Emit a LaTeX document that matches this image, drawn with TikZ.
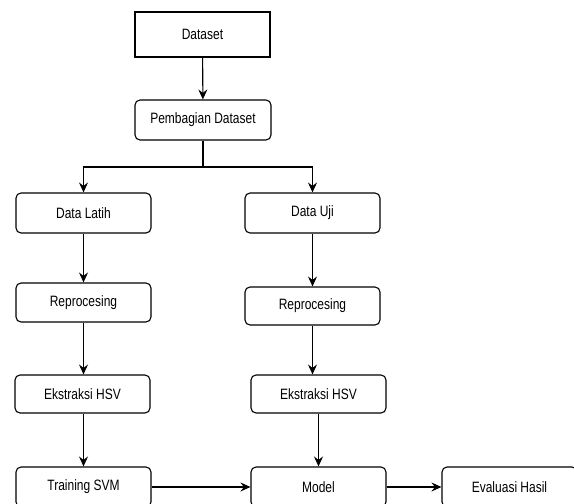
\documentclass[tikz,border=0pt]{standalone}
\usepackage{fontspec}
\setmainfont{Liberation Sans}[FakeStretch=0.8]
\usetikzlibrary{arrows.meta}
\begin{document}
\begin{tikzpicture}[x=1pt,y=-1pt,
  box/.style={draw=black, line width=1.1pt, rounded corners=5pt, minimum width=135pt, minimum height=40pt, inner sep=0pt, font=\fontsize{15}{17}\selectfont, fill=white},
  sqbox/.style={box, rounded corners=0pt, minimum height=45pt},
  arr/.style={line width=1.1pt, -{Stealth[length=10pt,width=9pt,inset=3.5pt]}},
  ln/.style={line width=1.1pt}]
\useasboundingbox (0,0) rectangle (574,504);
\clip (0,0) rectangle (574,504);
\node[sqbox] (ds) at (202.5,34.5) {Dataset};
\node[box, minimum width=136pt] (pb) at (203,120) {Pembagian Dataset};
\node[box] (dl) at (83.5,213) {Data Latih};
\node[box] (du) at (312.5,213) {Data Uji};
\node[box, minimum height=39pt] (rl) at (83.5,302.5) {Reprocesing};
\node[box, minimum height=38pt] (rr) at (312.5,306) {Reprocesing};
\node[box, minimum height=38pt] (el) at (82.5,394) {Ekstraksi HSV};
\node[box, minimum height=38pt] (er) at (318.5,394) {Ekstraksi HSV};
\node[box] (tr) at (83.5,487) {Training SVM};
\node[box] (md) at (318.5,487) {Model};
\node[box] (ev) at (509.5,487) {Evaluasi Hasil};
\coordinate (sp) at (203,167);
\draw[arr] (ds) -- (pb);
\draw[ln] (pb.south) -- (sp);
\draw[arr] (sp) -| (dl.north);
\draw[arr] (sp) -| (du.north);
\draw[arr] (dl) -- (rl);
\draw[arr] (rl) -- (el.north -| rl.south);
\draw[arr] (el.south -| tr.north) -- (tr);
\draw[arr] (du) -- (rr);
\draw[arr] (rr.south) -- (rr.south |- er.north);
\draw[arr] (er) -- (md);
\draw[arr] (tr) -- (md);
\draw[arr] (md) -- (ev);
\end{tikzpicture}
\end{document}
